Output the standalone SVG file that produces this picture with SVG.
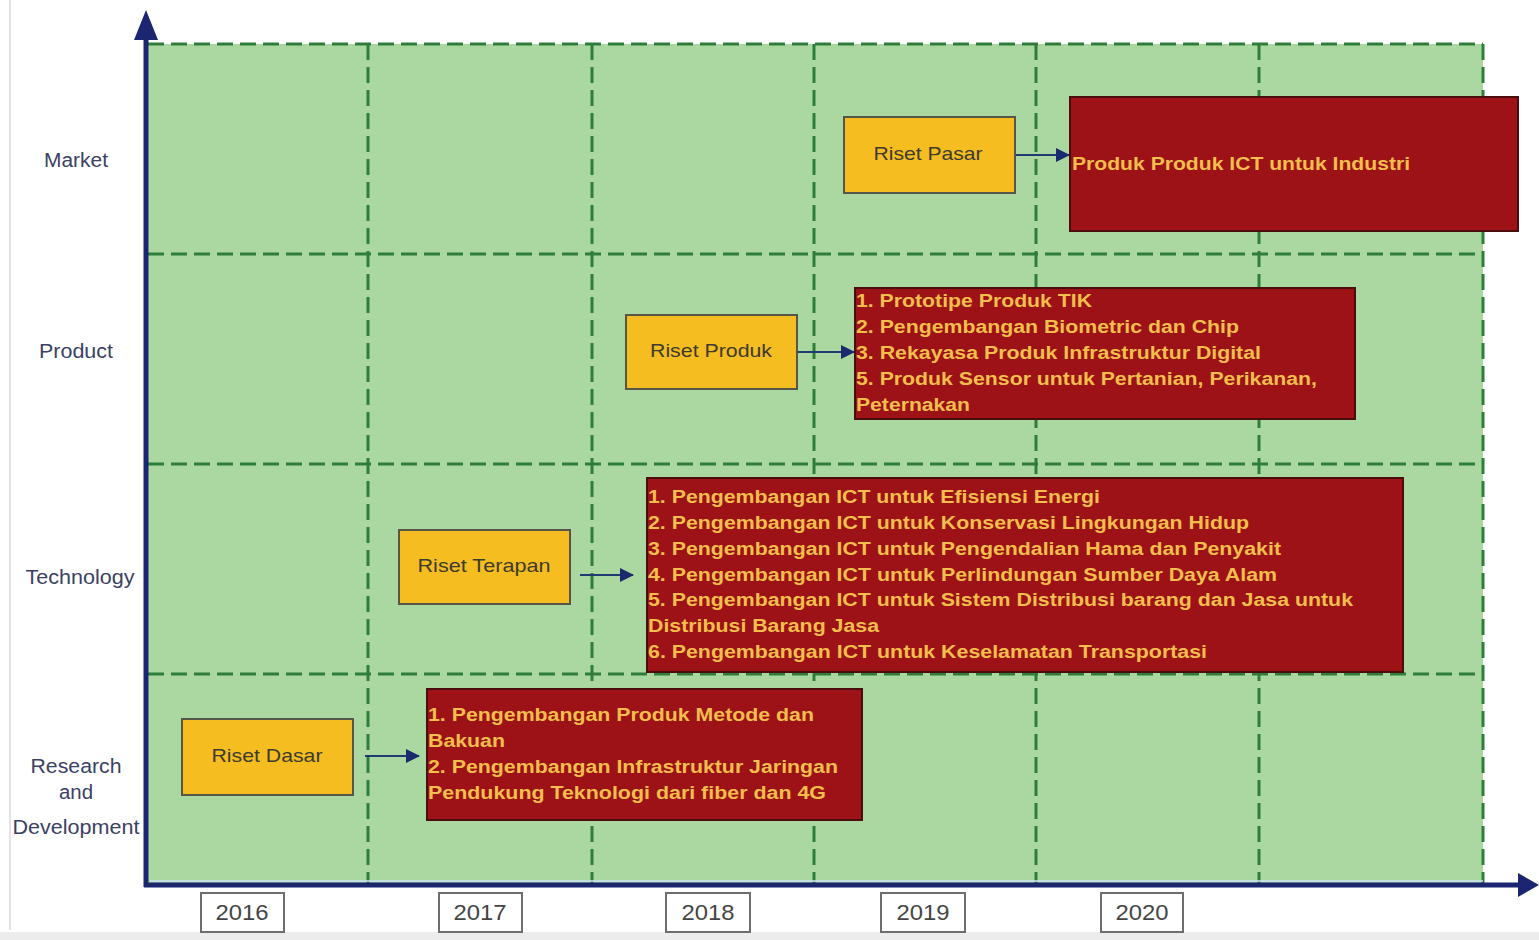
<svg xmlns="http://www.w3.org/2000/svg" width="1539" height="940" viewBox="0 0 1539 940">
  <style>
    .grid { stroke: #2f7d3a; stroke-width: 3; stroke-dasharray: 16 7; fill: none; }
    .axis { stroke: #1b2570; stroke-width: 5; fill: none; }
    .phase rect { fill: #f5bd1f; stroke: #55554a; stroke-width: 2; }
    .phase text { font-family: "Liberation Sans", Arial, sans-serif; font-size: 19px; fill: #3d3a2e; text-anchor: middle; }
    .out rect { fill: #9c1217; stroke: #4a0c0c; stroke-width: 2; }
    .out text { font-family: "Liberation Sans", Arial, sans-serif; font-size: 18px; font-weight: bold; fill: #f3be4c; }
    .row text { font-family: "Liberation Sans", Arial, sans-serif; font-size: 20px; fill: #3b4163; text-anchor: middle; }
    .year rect { fill: #ffffff; stroke: #6e6e6e; stroke-width: 2; }
    .year text { font-family: "Liberation Sans", Arial, sans-serif; font-size: 22px; fill: #454545; text-anchor: middle; }
    .link { stroke: #1f3a6e; stroke-width: 2; fill: none; marker-end: url(#head); }
  </style>
  <defs>
    <marker id="head" markerWidth="14" markerHeight="14" refX="13" refY="7" orient="auto" markerUnits="userSpaceOnUse">
      <path d="M0,0 L14,7 L0,14 Z" fill="#1b2a6e"/>
    </marker>
  </defs>

  <rect width="1539" height="940" fill="#ffffff"/>
  <line x1="10" y1="0" x2="10" y2="930" stroke="#e4e4e4" stroke-width="2"/>
  <rect x="0" y="932" width="1539" height="8" fill="#ececec"/>

  <!-- roadmap field -->
  <rect x="148" y="44" width="1335" height="840" fill="#abd8a0"/>

  <!-- dashed grid -->
  <g id="grid">
    <line class="grid" x1="148" y1="44" x2="1483" y2="44"/>
    <line class="grid" x1="148" y1="254" x2="1483" y2="254"/>
    <line class="grid" x1="148" y1="464" x2="1483" y2="464"/>
    <line class="grid" x1="148" y1="674" x2="1483" y2="674"/>
    <line class="grid" x1="368" y1="44" x2="368" y2="884"/>
    <line class="grid" x1="592" y1="44" x2="592" y2="884"/>
    <line class="grid" x1="814" y1="44" x2="814" y2="884"/>
    <line class="grid" x1="1036" y1="44" x2="1036" y2="884"/>
    <line class="grid" x1="1259" y1="44" x2="1259" y2="884"/>
    <line class="grid" x1="1483" y1="44" x2="1483" y2="884"/>
  </g>

  <!-- axes -->
  <g id="axes">
    <line class="axis" x1="146" y1="887" x2="146" y2="36"/>
    <path d="M134,40 L146,10 L158,40 Z" fill="#1b2570"/>
    <line x1="150" y1="881" x2="1483" y2="881" stroke="#cfe3f5" stroke-width="1.5"/>
    <line class="axis" x1="144" y1="885" x2="1522" y2="885"/>
    <path d="M1518,873 L1539,885 L1518,897 Z" fill="#1b2570"/>
  </g>

  <!-- row labels -->
  <g id="rows" class="row">
    <text x="76" y="167" textLength="64" lengthAdjust="spacingAndGlyphs">Market</text>
    <text x="76" y="358" textLength="74" lengthAdjust="spacingAndGlyphs">Product</text>
    <text x="80" y="584" textLength="109" lengthAdjust="spacingAndGlyphs">Technology</text>
    <text x="76" y="773" textLength="91" lengthAdjust="spacingAndGlyphs">Research</text>
    <text x="76" y="799" textLength="34" lengthAdjust="spacingAndGlyphs">and</text>
    <text x="76" y="834" textLength="127" lengthAdjust="spacingAndGlyphs">Development</text>
  </g>

  <!-- year labels -->
  <g id="y2016" class="year"><rect x="201" y="893" width="83" height="39"/><text x="242" y="920" textLength="53" lengthAdjust="spacingAndGlyphs">2016</text></g>
  <g id="y2017" class="year"><rect x="439" y="893" width="83" height="39"/><text x="480" y="920" textLength="53" lengthAdjust="spacingAndGlyphs">2017</text></g>
  <g id="y2018" class="year"><rect x="666" y="893" width="84" height="39"/><text x="708" y="920" textLength="53" lengthAdjust="spacingAndGlyphs">2018</text></g>
  <g id="y2019" class="year"><rect x="881" y="893" width="84" height="39"/><text x="923" y="920" textLength="53" lengthAdjust="spacingAndGlyphs">2019</text></g>
  <g id="y2020" class="year"><rect x="1101" y="893" width="82" height="39"/><text x="1142" y="920" textLength="53" lengthAdjust="spacingAndGlyphs">2020</text></g>

  <!-- connectors -->
  <g id="connectors">
    <line class="link" x1="1015" y1="155" x2="1069" y2="155"/>
    <line class="link" x1="797" y1="352" x2="854" y2="352"/>
    <line class="link" x1="580" y1="575" x2="633" y2="575"/>
    <line class="link" x1="365" y1="756" x2="419" y2="756"/>
  </g>

  <!-- market -->
  <g id="riset-pasar" class="phase">
    <rect x="844" y="117" width="171" height="76"/>
    <text x="928" y="160" textLength="109" lengthAdjust="spacingAndGlyphs">Riset Pasar</text>
  </g>
  <g id="out-market" class="out">
    <rect x="1070" y="97" width="448" height="134"/>
    <text x="1072" y="170" textLength="338" lengthAdjust="spacingAndGlyphs">Produk Produk ICT untuk Industri</text>
  </g>

  <!-- product -->
  <g id="riset-produk" class="phase">
    <rect x="626" y="315" width="171" height="74"/>
    <text x="711" y="357" textLength="122" lengthAdjust="spacingAndGlyphs">Riset Produk</text>
  </g>
  <g id="out-product" class="out">
    <rect x="855" y="288" width="500" height="131"/>
    <text x="856" y="307" textLength="236" lengthAdjust="spacingAndGlyphs">1. Prototipe Produk TIK</text>
    <text x="856" y="333" textLength="383" lengthAdjust="spacingAndGlyphs">2. Pengembangan Biometric dan Chip</text>
    <text x="856" y="359" textLength="405" lengthAdjust="spacingAndGlyphs">3. Rekayasa Produk Infrastruktur Digital</text>
    <text x="856" y="385" textLength="461" lengthAdjust="spacingAndGlyphs">5. Produk Sensor untuk Pertanian, Perikanan,</text>
    <text x="856" y="411" textLength="114" lengthAdjust="spacingAndGlyphs">Peternakan</text>
  </g>

  <!-- technology -->
  <g id="riset-terapan" class="phase">
    <rect x="399" y="530" width="171" height="74"/>
    <text x="484" y="572" textLength="133" lengthAdjust="spacingAndGlyphs">Riset Terapan</text>
  </g>
  <g id="out-technology" class="out">
    <rect x="647" y="478" width="756" height="194"/>
    <text x="648" y="503" textLength="452" lengthAdjust="spacingAndGlyphs">1. Pengembangan ICT untuk Efisiensi Energi</text>
    <text x="648" y="529" textLength="601" lengthAdjust="spacingAndGlyphs">2. Pengembangan ICT untuk Konservasi Lingkungan Hidup</text>
    <text x="648" y="555" textLength="633" lengthAdjust="spacingAndGlyphs">3. Pengembangan ICT untuk Pengendalian Hama dan Penyakit</text>
    <text x="648" y="581" textLength="629" lengthAdjust="spacingAndGlyphs">4. Pengembangan ICT untuk Perlindungan Sumber Daya Alam</text>
    <text x="648" y="606" textLength="705" lengthAdjust="spacingAndGlyphs">5. Pengembangan ICT untuk Sistem Distribusi barang dan Jasa untuk</text>
    <text x="648" y="632" textLength="231" lengthAdjust="spacingAndGlyphs">Distribusi Barang Jasa</text>
    <text x="648" y="658" textLength="559" lengthAdjust="spacingAndGlyphs">6. Pengembangan ICT untuk Keselamatan Transportasi</text>
  </g>

  <!-- research and development -->
  <g id="riset-dasar" class="phase">
    <rect x="182" y="719" width="171" height="76"/>
    <text x="267" y="762" textLength="111" lengthAdjust="spacingAndGlyphs">Riset Dasar</text>
  </g>
  <g id="out-rnd" class="out">
    <rect x="427" y="689" width="435" height="131"/>
    <text x="428" y="721" textLength="386" lengthAdjust="spacingAndGlyphs">1. Pengembangan Produk Metode dan</text>
    <text x="428" y="747" textLength="77" lengthAdjust="spacingAndGlyphs">Bakuan</text>
    <text x="428" y="773" textLength="410" lengthAdjust="spacingAndGlyphs">2. Pengembangan Infrastruktur Jaringan</text>
    <text x="428" y="799" textLength="398" lengthAdjust="spacingAndGlyphs">Pendukung Teknologi dari fiber dan 4G</text>
  </g>
</svg>
